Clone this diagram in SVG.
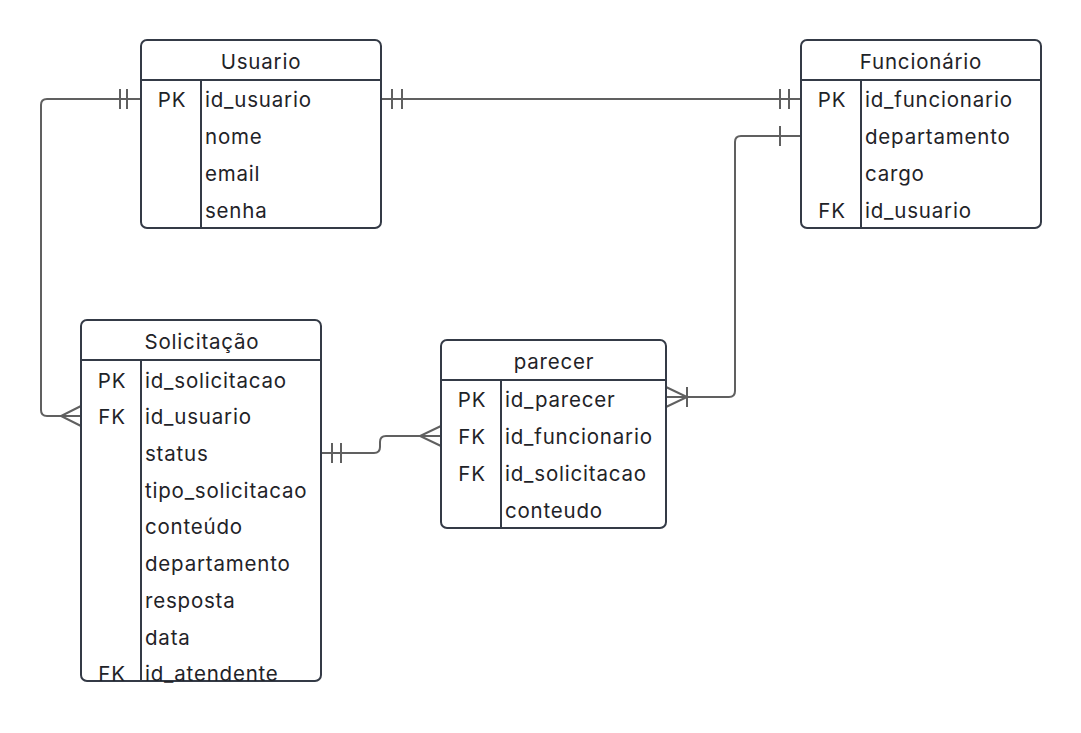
<svg xmlns="http://www.w3.org/2000/svg" width="1081" height="733" viewBox="0 0 1081 733">
<style>
.box{fill:#fff;stroke:#343a46;stroke-width:2}
.ln{stroke:#343a46;stroke-width:2;fill:none}
.t{font-family:Inter,"Noto Sans",sans-serif;font-size:20.5px;letter-spacing:0.8px;fill:#1f2328;dominant-baseline:central}
.h{text-anchor:middle}
.k{text-anchor:middle}
.c{stroke:#606060;stroke-width:2;fill:none}
</style>
<rect width="1081" height="733" fill="#fff"/>
<g id="connectors">
  <path class="c" d="M141 99 H47 Q41 99 41 105 V410 Q41 416 47 416 H81"/>
  <path class="c" d="M120 89 V109 M127 89 V109"/>
  <path class="c" d="M81 406 L61 416 L81 426"/>
  <path class="c" d="M381 99 H801"/>
  <path class="c" d="M392 89 V109 M402 89 V109 M780 89 V109 M789 89 V109"/>
  <path class="c" d="M801 136 H741 Q735 136 735 142 V391 Q735 397 729 397 H666"/>
  <path class="c" d="M780 126 V146"/>
  <path class="c" d="M666 387 L687 397 L666 407 M687 387 V407"/>
  <path class="c" d="M321 453 H374 Q380 453 380 447 V442 Q380 436 386 436 H441"/>
  <path class="c" d="M332 443 V463 M341 443 V463"/>
  <path class="c" d="M441 426 L420 436 L441 446"/>
</g>
<g id="usuario">
  <rect class="box" x="141" y="40" width="240" height="188" rx="6"/>
  <path class="ln" d="M141 80 H381 M201 80 V228"/>
  <text class="t h" x="261" y="61">Usuario</text>
  <text class="t k" x="172" y="99">PK</text>
  <text class="t" x="205" y="99">id_usuario</text>
  <text class="t" x="205" y="136">nome</text>
  <text class="t" x="205" y="173">email</text>
  <text class="t" x="205" y="210">senha</text>
</g>
<g id="funcionario">
  <rect class="box" x="801" y="40" width="240" height="188" rx="6"/>
  <path class="ln" d="M801 80 H1041 M861 80 V228"/>
  <text class="t h" x="921" y="61">Funcionário</text>
  <text class="t k" x="832" y="99">PK</text>
  <text class="t" x="865" y="99">id_funcionario</text>
  <text class="t" x="865" y="136">departamento</text>
  <text class="t" x="865" y="173">cargo</text>
  <text class="t k" x="832" y="210">FK</text>
  <text class="t" x="865" y="210">id_usuario</text>
</g>
<g id="solicitacao">
  <rect class="box" x="81" y="320" width="240" height="361" rx="6"/>
  <path class="ln" d="M81 360 H321 M141 360 V681"/>
  <text class="t h" x="202" y="341">Solicitação</text>
  <text class="t k" x="112" y="380">PK</text>
  <text class="t" x="145" y="380">id_solicitacao</text>
  <text class="t k" x="112" y="416">FK</text>
  <text class="t" x="145" y="416">id_usuario</text>
  <text class="t" x="145" y="453">status</text>
  <text class="t" x="145" y="490">tipo_solicitacao</text>
  <text class="t" x="145" y="526">conteúdo</text>
  <text class="t" x="145" y="563">departamento</text>
  <text class="t" x="145" y="600">resposta</text>
  <text class="t" x="145" y="637">data</text>
  <text class="t k" x="112" y="673">FK</text>
  <text class="t" x="145" y="673">id_atendente</text>
</g>
<g id="parecer">
  <rect class="box" x="441" y="340" width="225" height="188" rx="6"/>
  <path class="ln" d="M441 380 H666 M501 380 V528"/>
  <text class="t h" x="554" y="361">parecer</text>
  <text class="t k" x="472" y="399">PK</text>
  <text class="t" x="505" y="399">id_parecer</text>
  <text class="t k" x="472" y="436">FK</text>
  <text class="t" x="505" y="436">id_funcionario</text>
  <text class="t k" x="472" y="473">FK</text>
  <text class="t" x="505" y="473">id_solicitacao</text>
  <text class="t" x="505" y="510">conteudo</text>
</g>
</svg>
